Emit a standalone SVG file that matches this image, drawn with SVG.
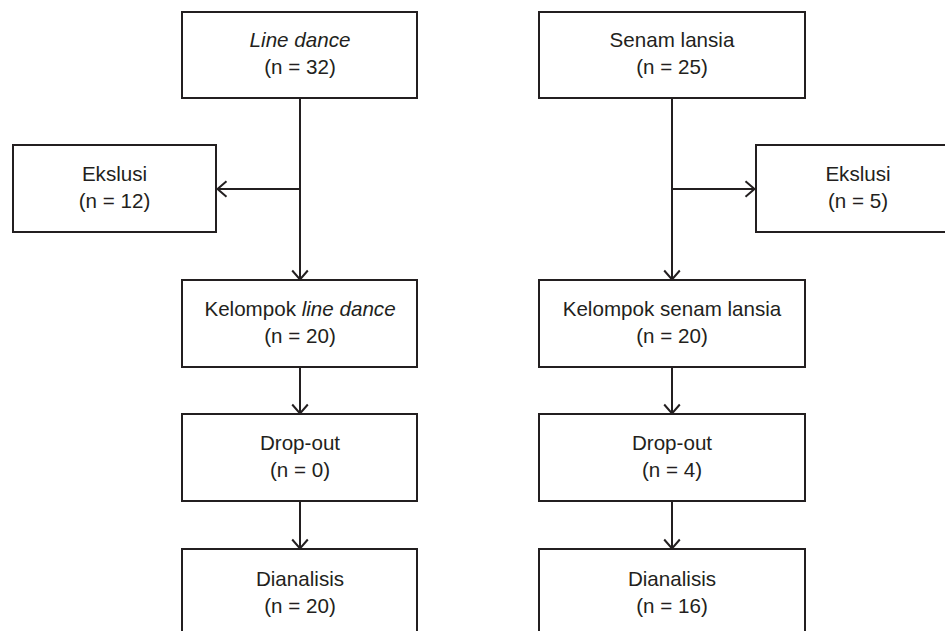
<svg xmlns="http://www.w3.org/2000/svg" width="945" height="631" viewBox="0 0 945 631">
<style>
.box{fill:#fff;stroke:#231f20;stroke-width:2}
.t{font-family:"Liberation Sans",Arial,sans-serif;font-size:20.6px;fill:#231f20;text-anchor:middle}
.c{fill:none;stroke:#231f20;stroke-width:2}
</style>
<defs>
<marker id="arr" markerUnits="userSpaceOnUse" markerWidth="14" markerHeight="20" viewBox="0 0 14 20" refX="12" refY="10" orient="auto">
<path d="M2.5,2.2 L11.5,10 L2.5,17.8" fill="none" stroke="#231f20" stroke-width="2"/>
</marker>
</defs>
<rect width="945" height="631" fill="#fff"/>
<g id="connectors">
<path class="c" d="M300,98 V280" marker-end="url(#arr)"/>
<path class="c" d="M300,189 H217" marker-end="url(#arr)"/>
<path class="c" d="M300,367 V414" marker-end="url(#arr)"/>
<path class="c" d="M300,501 V549" marker-end="url(#arr)"/>
<path class="c" d="M672,98 V280" marker-end="url(#arr)"/>
<path class="c" d="M672,189 H755" marker-end="url(#arr)"/>
<path class="c" d="M672,367 V414" marker-end="url(#arr)"/>
<path class="c" d="M672,501 V549" marker-end="url(#arr)"/>
</g>
<g id="n_linedance">
<rect class="box" x="182" y="12" width="235" height="86"/>
<text class="t" x="300" y="47" font-style="italic">Line dance</text>
<text class="t" x="300" y="73.5">(n = 32)</text>
</g>
<g id="n_ekslusi_l">
<rect class="box" x="13" y="145" width="203" height="87"/>
<text class="t" x="114.5" y="181">Ekslusi</text>
<text class="t" x="114.5" y="207.5">(n = 12)</text>
</g>
<g id="n_kelompok_l">
<rect class="box" x="182" y="280" width="235" height="87"/>
<text class="t" x="300" y="316">Kelompok <tspan font-style="italic">line dance</tspan></text>
<text class="t" x="300" y="342.5">(n = 20)</text>
</g>
<g id="n_dropout_l">
<rect class="box" x="182" y="414" width="235" height="87"/>
<text class="t" x="300" y="450">Drop-out</text>
<text class="t" x="300" y="476.5">(n = 0)</text>
</g>
<g id="n_dianalisis_l">
<rect class="box" x="182" y="549" width="235" height="90"/>
<text class="t" x="300" y="585.5">Dianalisis</text>
<text class="t" x="300" y="612.5">(n = 20)</text>
</g>
<g id="n_senam">
<rect class="box" x="539" y="12" width="266" height="86"/>
<text class="t" x="672" y="47">Senam lansia</text>
<text class="t" x="672" y="73.5">(n = 25)</text>
</g>
<g id="n_ekslusi_r">
<rect class="box" x="756" y="145" width="204" height="87"/>
<text class="t" x="858" y="181">Ekslusi</text>
<text class="t" x="858" y="207.5">(n = 5)</text>
</g>
<g id="n_kelompok_r">
<rect class="box" x="539" y="280" width="266" height="87"/>
<text class="t" x="672" y="316">Kelompok senam lansia</text>
<text class="t" x="672" y="342.5">(n = 20)</text>
</g>
<g id="n_dropout_r">
<rect class="box" x="539" y="414" width="266" height="87"/>
<text class="t" x="672" y="450">Drop-out</text>
<text class="t" x="672" y="476.5">(n = 4)</text>
</g>
<g id="n_dianalisis_r">
<rect class="box" x="539" y="549" width="266" height="90"/>
<text class="t" x="672" y="585.5">Dianalisis</text>
<text class="t" x="672" y="612.5">(n = 16)</text>
</g>
</svg>
